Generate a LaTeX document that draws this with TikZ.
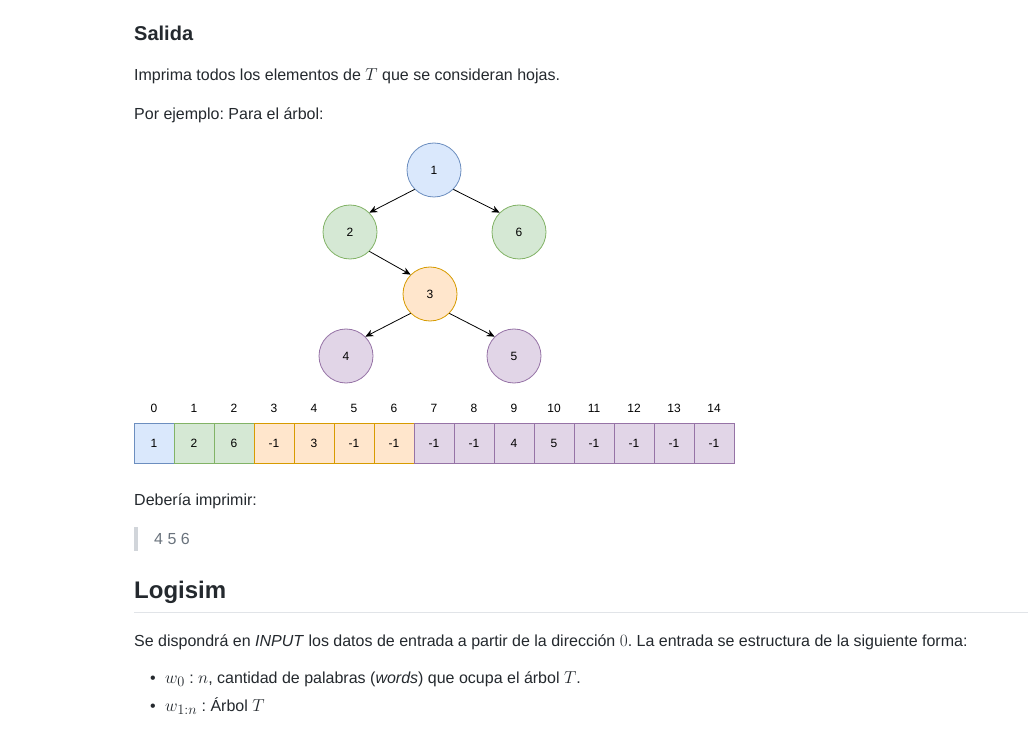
\documentclass[tikz,border=0pt]{standalone}
\usepackage{fontspec}
\setmainfont{Liberation Sans}
\usetikzlibrary{arrows.meta}
\frenchspacing
\definecolor{txt}{HTML}{24292E}
\definecolor{quotec}{HTML}{6A737D}
\definecolor{quotebar}{HTML}{D1D5DA}
\definecolor{rule}{HTML}{E1E4E8}
\definecolor{bfill}{HTML}{DAE8FC}\definecolor{bdraw}{HTML}{6C8EBF}
\definecolor{gfill}{HTML}{D5E8D4}\definecolor{gdraw}{HTML}{82B366}
\definecolor{ofill}{HTML}{FFE6CC}\definecolor{odraw}{HTML}{D79B00}
\definecolor{pfill}{HTML}{E1D5E7}\definecolor{pdraw}{HTML}{9673A6}
\newcommand{\kmath}[1]{{\fontsize{19}{19}\selectfont$#1$}}
\begin{document}
\begin{tikzpicture}[x=1pt,y=-1pt,
  body/.style={anchor=base west,inner sep=0pt,text=txt,font=\fontsize{16}{19}\selectfont},
  tnode/.style={circle,minimum size=54pt,inner sep=0pt,line width=0.8pt,font=\fontsize{12}{14}\selectfont,text=black},
  cell/.style={rectangle,minimum width=40pt,minimum height=40pt,inner sep=0pt,line width=0.8pt,font=\fontsize{12}{14}\selectfont,text=black},
  idx/.style={inner sep=0pt,font=\fontsize{12}{14}\selectfont,text=black},
  blue/.style={fill=bfill,draw=bdraw},
  green/.style={fill=gfill,draw=gdraw},
  orange/.style={fill=ofill,draw=odraw},
  purple/.style={fill=pfill,draw=pdraw},
  edge/.style={-{Stealth[length=8pt,width=7pt]},line width=0.8pt,black}]
\path[use as bounding box,fill=white] (0,0) rectangle (1028,735);

% headings and text
\node[body,font=\bfseries\fontsize{20}{24}\selectfont] (h1) at (134,41) {Salida};
\node[body] (p1) at (134,81) {Imprima todos los elementos de \kmath{T} que se consideran hojas.};
\node[body] (p2) at (134,120) {Por ejemplo: Para el árbol:};

% tree
\node[tnode,blue] (n1) at (434,170) {1};
\node[tnode,green] (n2) at (350,232) {2};
\node[tnode,green] (n6) at (519,232) {6};
\node[tnode,orange] (n3) at (430,294) {3};
\node[tnode,purple] (n4) at (346,356) {4};
\node[tnode,purple] (n5) at (514,356) {5};
\draw[edge] (n1.south west) -- (n2.north east);
\draw[edge] (n1.south east) -- (n6.north west);
\draw[edge] (n2.south east) -- (n3.north west);
\draw[edge] (n3.south west) -- (n4.north east);
\draw[edge] (n3.south east) -- (n5.north west);

% array
\foreach \i/\v/\s in {0/1/blue,1/2/green,2/6/green,3/-1/orange,4/3/orange,5/-1/orange,6/-1/orange,7/-1/purple,8/-1/purple,9/4/purple,10/5/purple,11/-1/purple,12/-1/purple,13/-1/purple,14/-1/purple}{
  \node[cell,\s] (c\i) at ({154+40*\i},443) {\v};
  \node[idx] (i\i) at ({154+40*\i},408) {\i};
}

\node[body] (p3) at (134,505) {Debería imprimir:};
\fill[quotebar] (134,527) rectangle (138,551);
\node[body,text=quotec] (q) at (154,544) {4 5 6};

\node[body,font=\bfseries\fontsize{24}{28}\selectfont] (h2) at (134,598) {Logisim};
\draw[rule,line width=1pt] (134,612) -- (1028,612);

\node[body] (p4) at (134,646) {Se dispondrá en \textit{INPUT} los datos de entrada a partir de la dirección \kmath{0}. La entrada se estructura de la siguiente forma:};
\node[body] (b1) at (150,683) {•};
\node[body] (l1) at (165,683) {\kmath{w_0} : \kmath{n}, cantidad de palabras (\textit{words}) que ocupa el árbol \kmath{T}.};
\node[body] (b2) at (150,711) {•};
\node[body] (l2) at (165,711) {\kmath{w_{1:n}} : Árbol \kmath{T}};
\end{tikzpicture}
\end{document}
